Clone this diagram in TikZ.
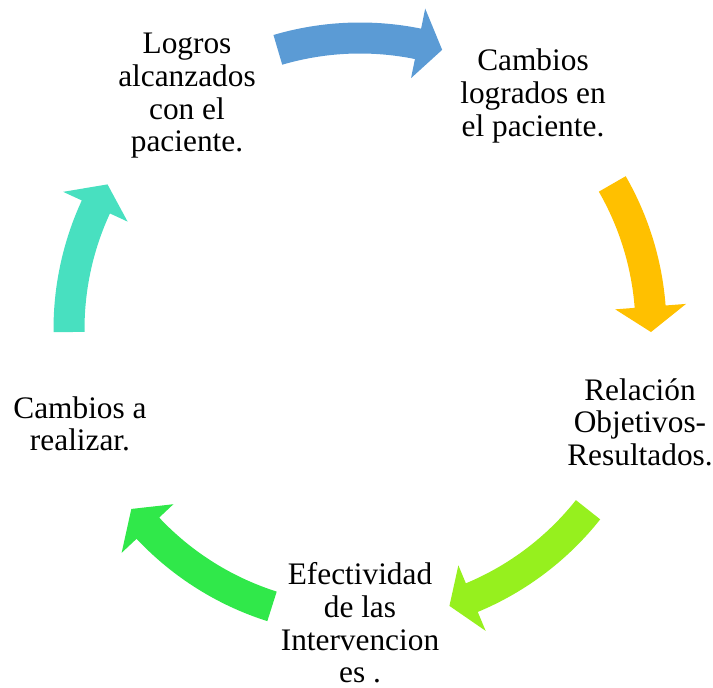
\documentclass[tikz,border=0pt]{standalone}
\usepackage{fontspec}
\setmainfont{Liberation Serif}
\definecolor{Arrowblue}{RGB}{91,155,213}
\definecolor{Arrowyellow}{RGB}{255,192,0}
\definecolor{Arrowlime}{RGB}{150,240,30}
\definecolor{Arrowgreen}{RGB}{48,232,74}
\definecolor{Arrowteal}{RGB}{72,224,192}

\begin{document}
\begin{tikzpicture}[x=0.75pt,y=0.75pt,
      every node/.style={align=center,font=\rmfamily\fontsize{23.5}{24.5}\selectfont}]
      \useasboundingbox (0,0) rectangle (713,688);
            \coordinate (C) at (360,359);
            % curved block arrows round the circle
            \foreach \s/\b/\t/\col in {106.4/78.5/73.6/Arrowblue, 29.9/4.4/-0.6/Arrowyellow,
                  -38.4/-67.4/-72.1/Arrowlime, 252.4/223.2/218.2/Arrowgreen, 180.6/155.2/150.2/Arrowteal}{
                \fill[\col, shift={(C)}] (\s:306.5) arc[start angle=\s, end angle=\b, radius=306.5]
                  -- (\b:327) -- (\t:291) -- (\b:256) -- (\b:275.5)
                  arc[start angle=\b, end angle=\s, radius=275.5] -- cycle;
            }
            \node (logros) at (187,592) {Logros\\alcanzados\\con el\\paciente.};
            \node (cambios) at (533,592) {Cambios\\logrados en\\el paciente.};
            \node (relacion) at (640,266) {Relación\\Objetivos-\\Resultados.};
            \node (efectividad) at (360,65) {Efectividad\\de las\\Intervencion\\es .};
            \node (realizar) at (80,264) {Cambios a\\realizar.};
        \end{tikzpicture}
\end{document}
